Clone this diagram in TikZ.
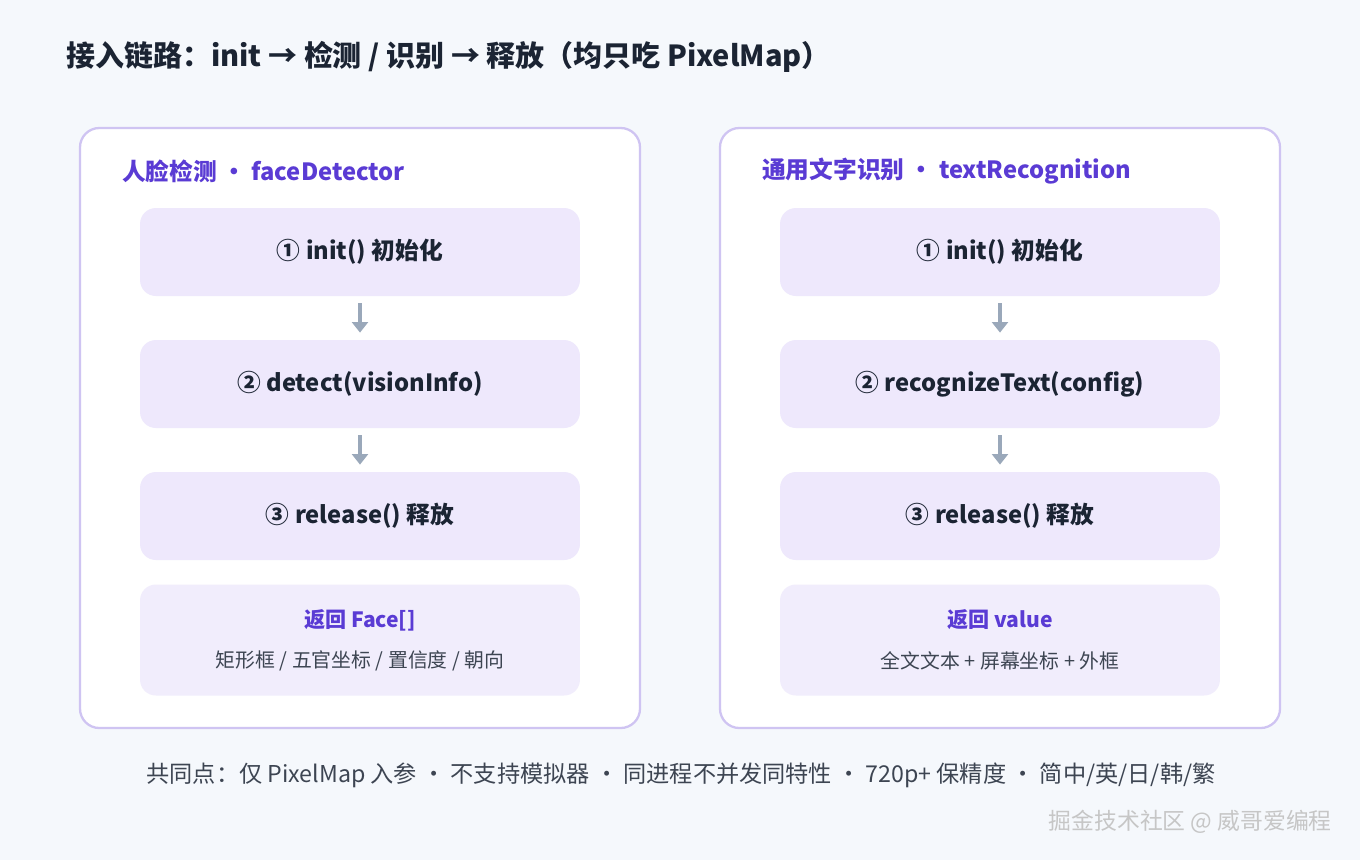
\documentclass[tikz,border=0pt]{standalone}
\usepackage{fontspec}
\setmainfont{Noto Sans CJK SC}
\usetikzlibrary{positioning, arrows.meta}
\definecolor{bgcol}{HTML}{F5F8FC}
\definecolor{panelline}{HTML}{CFC4F2}
\definecolor{stepfill}{HTML}{EEE8FC}
\definecolor{resfill}{HTML}{F1EDFC}
\definecolor{headcol}{HTML}{5A3BD4}
\definecolor{darktxt}{HTML}{1B2433}
\definecolor{arrowcol}{HTML}{9AA8BA}
\tikzset{
  panel/.style={draw=panelline, line width=1.3pt, fill=white, rounded corners=11pt},
  stagebox/.style={fill=stepfill, rounded corners=9pt, minimum width=8.8cm, minimum height=1.76cm,
    font=\fontsize{13.5}{16}\selectfont\bfseries, text=darktxt},
  result/.style={fill=resfill, rounded corners=9pt, minimum width=8.8cm, minimum height=2.22cm},
  head/.style={anchor=west, font=\fontsize{13.5}{16}\selectfont\bfseries, text=headcol},
  flow/.style={draw=arrowcol, line width=2.2pt, -{Triangle[length=6pt, width=9pt]}, shorten <=4pt, shorten >=4pt}
}
\begin{document}
\begin{tikzpicture}[x=0.02cm, y=-0.02cm]
  \fill[bgcol] (0,0) rectangle (1360,860);
  \useasboundingbox (0,0) rectangle (1360,860);

  % title
  \node[anchor=west, font=\fontsize{16.5}{20}\selectfont\bfseries, text=darktxt] (title) at (60,57)
    {接入链路：init → 检测 / 识别 → 释放（均只吃 PixelMap）};

  % left panel
  \draw[panel] (80,128) rectangle (640,728);
  \node[head] (lhead) at (116,171) {人脸检测 · faceDetector};
  \node[stagebox] (linit) at (360,252) {① init() 初始化};
  \node[stagebox] (ldet) at (360,384) {② detect(visionInfo)};
  \node[stagebox] (lrel) at (360,516) {③ release() 释放};
  \node[result] (lres) at (360,640) {};
  \node[font=\fontsize{12}{14}\selectfont\bfseries, text=headcol] (lrest) at (360,620) {返回 Face[]};
  \node[font=\fontsize{11.3}{13}\selectfont, text=darktxt!85] (lresd) at (360,661) {矩形框 / 五官坐标 / 置信度 / 朝向};
  \draw[flow] (linit) -- (ldet);
  \draw[flow] (ldet) -- (lrel);

  % right panel
  \draw[panel] (720,128) rectangle (1280,728);
  \node[head] (rhead) at (756,171) {通用文字识别 · textRecognition};
  \node[stagebox] (rinit) at (1000,252) {① init() 初始化};
  \node[stagebox] (rrec) at (1000,384) {② recognizeText(config)};
  \node[stagebox] (rrel) at (1000,516) {③ release() 释放};
  \node[result] (rres) at (1000,640) {};
  \node[font=\fontsize{12}{14}\selectfont\bfseries, text=headcol] (rrest) at (1000,620) {返回 value};
  \node[font=\fontsize{11.3}{13}\selectfont, text=darktxt!85] (rresd) at (1000,661) {全文文本 + 屏幕坐标 + 外框};
  \draw[flow] (rinit) -- (rrec);
  \draw[flow] (rrec) -- (rrel);

  % footer
  \node[font=\fontsize{13.2}{15}\selectfont, text=darktxt!85] (foot) at (681,775)
    {共同点：仅 PixelMap 入参 · 不支持模拟器 · 同进程不并发同特性 · 720p+ 保精度 · 简中/英/日/韩/繁};
  \node[anchor=east, font=\fontsize{13}{15}\selectfont, text=gray!45] (mark) at (1338,822)
    {掘金技术社区 @ 威哥爱编程};
\end{tikzpicture}
\end{document}
